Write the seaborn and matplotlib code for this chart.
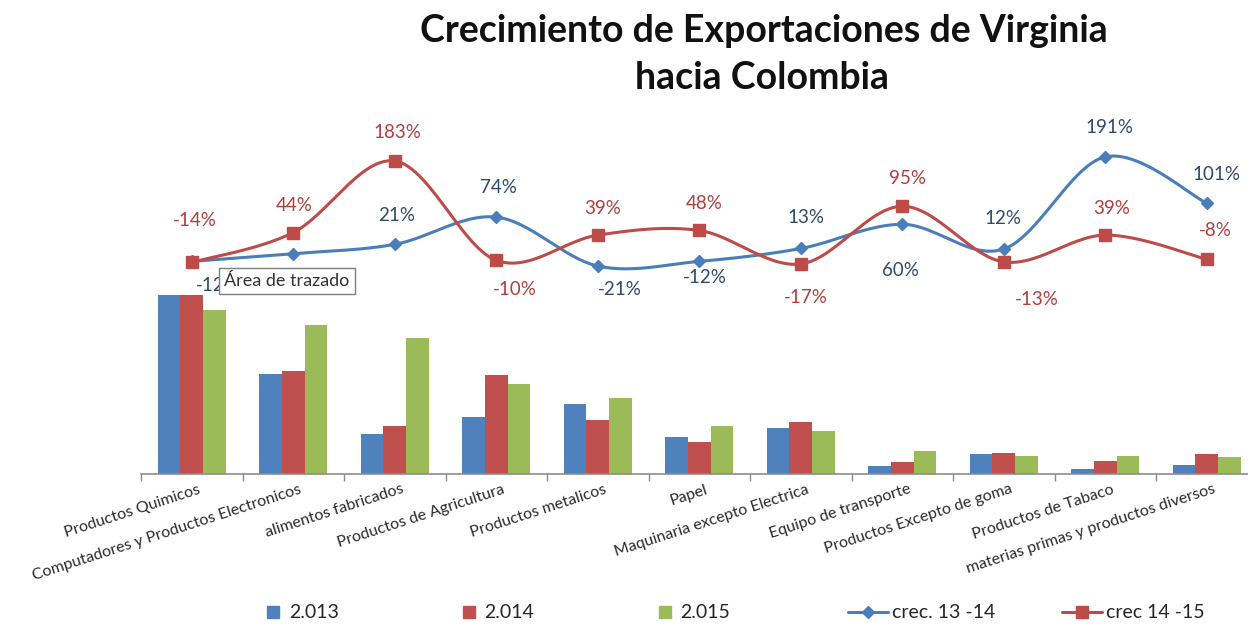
import numpy as np
import pandas as pd
import matplotlib.pyplot as plt
import matplotlib.transforms as mtransforms
from matplotlib.lines import Line2D
import seaborn as sns

# datos (unidades relativas, crecimientos en %)
categorias = ["Productos Quimicos", "Computadores y Productos Electronicos",
              "alimentos fabricados", "Productos de Agricultura", "Productos metalicos",
              "Papel", "Maquinaria excepto Electrica", "Equipo de transporte",
              "Productos Excepto de goma", "Productos de Tabaco",
              "materias primas y productos diversos"]
anios = ["2.013", "2.014", "2.015"]
valores_2013 = [217, 100, 40, 57, 70, 37, 46, 8, 20, 5, 9]
valores_2014 = [191, 103, 48, 99, 54, 32, 52, 12, 21, 13, 20]
valores_2015 = [164, 149, 136, 90, 76, 48, 43, 23, 18, 18, 17]
crec_13_14 = [-12, 3, 21, 74, -21, -12, 13, 60, 12, 191, 101]
crec_14_15 = [-14, 44, 183, -10, 39, 48, -17, 95, -13, 39, -8]

# posicion de las etiquetas (px respecto al punto), None = sin etiqueta
pos_azul = [(26, 24), None, (2, -29), (2, -30), (22, 23), (6, 16), (5, -31),
            (-2, 46), (-1, -31), (4, -29), (10, -29)]
pos_roja = [(3, -42), (1, -27), (3, -28), (19, 29), (5, -27), (5, -27), (5, 34),
            (5, -28), (33, 38), (6, -27), (9, -29)]

col_barras = ["#4F81BD", "#C0504D", "#9BBB59"]
col_azul = "#4A7EBB"
col_roja = "#BE4B48"

df = pd.DataFrame({
    "categoria": categorias * 3,
    "anio": [a for a in anios for _ in categorias],
    "valor": valores_2013 + valores_2014 + valores_2015,
})

sns.set_theme(style="white")
plt.rcParams["font.family"] = ["Lato", "DejaVu Sans"]

W, H = 1248, 634
fig = plt.figure(figsize=(W / 100, H / 100), dpi=100)
fig.patch.set_facecolor("white")
ax = fig.add_axes([141 / W, (H - 474) / H, 1116.5 / W, 179 / H])
ax.set_facecolor("none")

sns.barplot(data=df, x="categoria", y="valor", hue="anio", palette=col_barras,
            width=0.67, saturation=1, legend=False, ax=ax)
for p in ax.patches:
    p.set_edgecolor("none")

ax.set_ylim(0, 179)
ax.set_xlim(-0.5, 10.5)
for s in ["top", "right", "left"]:
    ax.spines[s].set_visible(False)
ax.spines["bottom"].set_color("#8c8c8c")
ax.spines["bottom"].set_linewidth(1.2)
ax.set_yticks([])
ax.set_xlabel("")
ax.set_ylabel("")
ax.set_xticks(range(len(categorias)))
ax.set_xticklabels(categorias, rotation=18, ha="right", rotation_mode="anchor",
                   fontsize=11.5, color="#2b2b2b")
ax.set_xticks(np.arange(-0.5, len(categorias), 1), minor=True)
ax.tick_params(axis="x", which="major", length=0, pad=6)
ax.tick_params(axis="x", which="minor", length=5, color="#8c8c8c", direction="out", bottom=True)
desplaza = mtransforms.ScaledTranslation(6 / 100, 0, fig.dpi_scale_trans)
for lab in ax.get_xticklabels():
    lab.set_transform(lab.get_transform() + desplaza)


def suavizar(xs, ys, n=30):
    # curva tipo "linea suavizada" de Excel (Catmull-Rom)
    x = np.asarray(xs, float)
    y = np.asarray(ys, float)
    px = np.concatenate([[x[0]], x, [x[-1]]])
    py = np.concatenate([[y[0]], y, [y[-1]]])
    ox, oy = [], []
    t = np.linspace(0, 1, n)
    for i in range(1, len(px) - 2):
        for arr, out in ((px, ox), (py, oy)):
            p0, p1, p2, p3 = arr[i - 1], arr[i], arr[i + 1], arr[i + 2]
            out.extend(0.5 * ((2 * p1) + (-p0 + p2) * t
                              + (2 * p0 - 5 * p1 + 4 * p2 - p3) * t ** 2
                              + (-p0 + 3 * p1 - 3 * p2 + p3) * t ** 3))
    return np.array(ox), np.array(oy)


ax2 = ax.twinx()
ax2.set_ylim(-424.9, -77.3)
ax2.axis("off")
xs = np.arange(len(categorias))

for serie, color, marca, tam, pos, col_txt in [
        (crec_13_14, col_azul, "D", 6, pos_azul, "#2E4A72"),
        (crec_14_15, col_roja, "s", 9, pos_roja, "#B03F3C")]:
    sx, sy = suavizar(xs, serie)
    ax2.plot(sx, sy, color=color, lw=2.2, clip_on=False, zorder=3)
    ax2.plot(xs, serie, linestyle="none", marker=marca, markersize=tam, color=color,
             clip_on=False, zorder=4)
    for x, v, d in zip(xs, serie, pos):
        if d is None:
            continue
        ax2.annotate(f"{v}%", (x, v), xytext=(d[0], -d[1]), textcoords="offset pixels",
                     ha="center", va="center", fontsize=13.5, color=col_txt,
                     annotation_clip=False, zorder=5)

fig.text(764 / W, 1 - 31 / H, "Crecimiento de Exportaciones de Virginia",
         ha="center", va="center", fontsize=27, fontweight="bold", color="#111111")
fig.text(762 / W, 1 - 78 / H, "hacia Colombia",
         ha="center", va="center", fontsize=27, fontweight="bold", color="#111111")

# cuadro emergente de Excel
fig.text(224 / W, 1 - 281 / H, "Área de trazado", ha="left", va="center", fontsize=13,
         color="#333333", zorder=10,
         bbox=dict(boxstyle="square,pad=0.3", facecolor="white", edgecolor="#7f7f7f", lw=1))

h_barras = [Line2D([], [], linestyle="none", marker="s", markersize=8, color=c) for c in col_barras]
leg1 = fig.legend(h_barras, anios, loc="center left", bbox_to_anchor=(250 / W, 1 - 613 / H),
                  ncol=3, frameon=False, fontsize=14, handlelength=0.6, handletextpad=0.5,
                  columnspacing=6.4)
h_lineas = [Line2D([], [], color=col_azul, lw=2.2, marker="D", markersize=6),
            Line2D([], [], color=col_roja, lw=2.2, marker="s", markersize=9)]
leg2 = fig.legend(h_lineas, ["crec. 13 -14", "crec 14 -15"], loc="center left",
                  bbox_to_anchor=(830 / W, 1 - 613 / H), ncol=2, frameon=False, fontsize=14,
                  handlelength=2.1, handletextpad=0.2, columnspacing=3.4)

fig.savefig("out.png", dpi=100, facecolor="white")
